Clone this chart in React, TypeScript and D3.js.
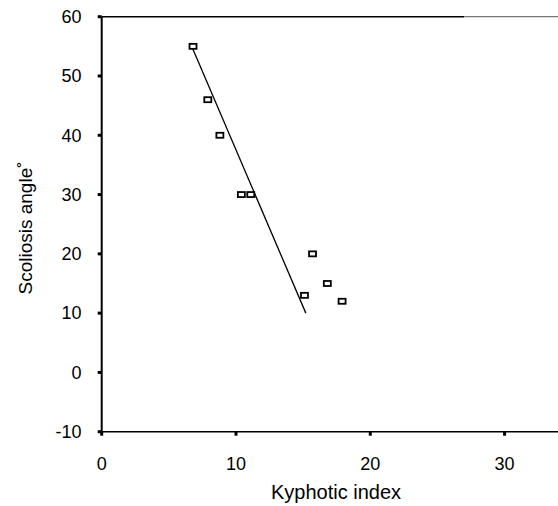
import React from "react";
import * as d3 from "d3";

const kyphoticIndex = [6.8, 7.9, 8.8, 10.4, 11.1, 15.7, 16.8, 15.1, 17.9];
const scoliosisAngle = [55, 46, 40, 30, 30, 20, 15, 13, 12];
const fitX = [6.7, 15.2];
const fitY = [55, 10];
const xTicks = [0, 10, 20, 30];
const yTicks = [-10, 0, 10, 20, 30, 40, 50, 60];

const W = 558;
const H = 506;

export default function App() {
  const x = d3.scaleLinear().domain([0, 34]).range([101.7, 558.3]);
  const y = d3.scaleLinear().domain([-10, 60]).range([431.7, 16.7]);
  const font = "'Liberation Sans', Arial, sans-serif";
  const line = d3
    .line<number>()
    .x((d) => x(d))
    .y((_, i) => y(fitY[i]));
  const [x0, x1] = x.range();
  const [yb, yt] = y.range();
  return (
    <svg
      width={W}
      height={H}
      style={{ position: "absolute", left: 0, top: 0, background: "#fff" }}
    >
      <rect x={0} y={0} width={W} height={H} fill="#fff" />
      {/* frame */}
      <line x1={x0} x2={x0} y1={yt} y2={yb} stroke="#000" strokeWidth={2} />
      <line x1={x0} x2={x1} y1={yb} y2={yb} stroke="#000" strokeWidth={1.5} />
      <line x1={x0} x2={x(27)} y1={yt} y2={yt} stroke="#000" strokeWidth={1.6} />
      <line x1={x(27)} x2={x1} y1={yt} y2={yt} stroke="#777" strokeWidth={1.2} />
      {/* y ticks */}
      {yTicks.map((t) => (
        <g key={"y" + t}>
          <line x1={x0 - 4} x2={x0} y1={y(t)} y2={y(t)} stroke="#000" strokeWidth={3} />
          <text
            x={81.5}
            y={y(t)}
            dy="0.35em"
            textAnchor="end"
            fontFamily={font}
            fontSize={18}
            fill="#000"
          >
            {t}
          </text>
        </g>
      ))}
      {/* x ticks */}
      {xTicks.map((t) => (
        <g key={"x" + t}>
          <line x1={x(t)} x2={x(t)} y1={yb} y2={yb + 4} stroke="#000" strokeWidth={3} />
          <text
            x={x(t)}
            y={470}
            textAnchor="middle"
            fontFamily={font}
            fontSize={18}
            fill="#000"
          >
            {t}
          </text>
        </g>
      ))}
      {/* regression line */}
      <path d={line(fitX) || ""} fill="none" stroke="#000" strokeWidth={1.3} />
      {/* points */}
      {kyphoticIndex.map((k, i) => (
        <rect
          key={"p" + i}
          x={x(k) - 3.5}
          y={y(scoliosisAngle[i]) - 2.5}
          width={7}
          height={5}
          fill="#fff"
          stroke="#000"
          strokeWidth={1.8}
        />
      ))}
      {/* axis titles */}
      <text
        x={336}
        y={499}
        textAnchor="middle"
        fontFamily={font}
        fontSize={20}
        fill="#000"
      >
        Kyphotic index
      </text>
      <text
        transform={`translate(32,228) rotate(-90)`}
        textAnchor="middle"
        fontFamily={font}
        fontSize={19}
        fill="#000"
      >
        Scoliosis angle˚
      </text>
    </svg>
  );
}
